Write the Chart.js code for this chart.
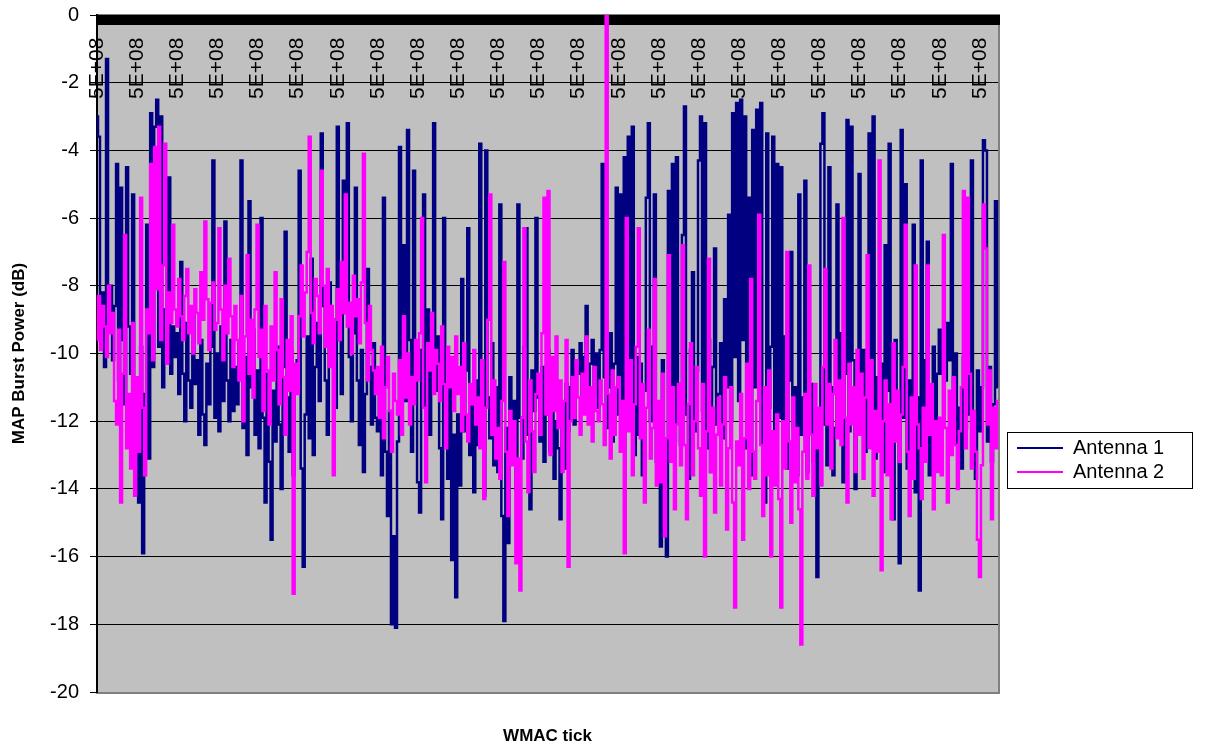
<!DOCTYPE html>
<html lang="en">
<head>
    <meta charset="UTF-8">
    <script src="https://cdn.jsdelivr.net/npm/chart.js@4"></script>
    <title>MAP Burst Power</title>
    <style>
        body { margin: 0; background: #fff; overflow: hidden; }
    </style>
</head>
<body>
    <canvas id="grafico1" width="1209" height="749"></canvas>
</body>
<script>
    // valori (dB), un punto ogni tick WMAC
    var antenna1 = [
        -3.0,-3.6,-9.5,-8.2,-10.4,-1.3,-9.0,-8.0,-10.2,-8.6, -4.4,-10.8,-5.1,-9.6,-11.5,-4.5,-9.2,-10.6,-5.3,-11.2,
        -12.6,-14.4,-9.8,-15.9,-11.2,-6.2,-13.1,-2.9,-10.4,-3.3, -2.5,-9.8,-3.0,-11.0,-8.7,-9.9,-4.8,-10.6,-9.2,-10.1,
        -9.4,-11.2,-7.3,-10.6,-12.0,-9.1,-10.8,-11.6,-8.8,-10.9, -10.2,-12.4,-9.6,-11.8,-12.7,-10.3,-11.5,-9.8,-4.3,-11.9,
        -10.0,-12.3,-9.2,-11.4,-6.1,-10.8,-12.0,-9.6,-11.7,-10.4, -11.5,-9.7,-4.3,-12.2,-10.1,-13.0,-5.5,-11.0,-9.3,-12.4,
        -10.5,-12.8,-6.0,-11.9,-14.4,-10.6,-13.2,-15.5,-11.1,-12.6, -9.8,-12.1,-14.0,-10.4,-6.4,-11.3,-12.9,-9.9,-13.6,-11.0,
        -10.2,-4.6,-13.4,-16.3,-11.8,-9.5,-12.5,-7.2,-13.0,-10.4, -9.1,-11.4,-3.5,-8.6,-10.8,-12.4,-7.9,-10.3,-9.0,-11.6,
        -3.3,-9.6,-11.2,-4.9,-8.8,-3.2,-10.1,-12.0,-9.4,-5.1, -10.8,-12.7,-9.9,-13.5,-11.2,-7.5,-10.4,-12.1,-9.7,-11.9,
        -12.3,-10.8,-13.6,-5.4,-12.9,-14.8,-11.7,-18.0,-15.4,-18.1, -12.6,-3.9,-10.2,-6.8,-11.4,-3.4,-9.6,-12.9,-4.6,-10.8,
        -13.8,-14.7,-9.9,-5.3,-11.6,-8.7,-12.4,-10.3,-3.2,-11.1, -9.5,-12.8,-14.9,-6.0,-12.1,-13.7,-10.9,-16.1,-12.4,-17.2,
        -11.8,-13.9,-7.8,-12.3,-10.5,-6.3,-13.0,-11.4,-14.1,-10.8, -12.7,-3.8,-10.6,-14.2,-4.0,-11.3,-12.5,-9.7,-13.3,-11.0,
        -13.5,-5.6,-14.8,-17.9,-12.2,-15.6,-10.7,-12.9,-11.4,-14.0, -5.6,-11.9,-13.1,-9.8,-6.3,-12.4,-14.6,-10.5,-11.7,-6.0,
        -11.3,-12.6,-10.4,-13.2,-11.8,-9.9,-12.9,-11.1,-13.7,-12.0, -12.8,-14.9,-11.6,-13.4,-10.9,-12.3,-11.0,-9.9,-12.1,-10.4,
        -10.6,-9.7,-11.4,-10.1,-8.6,-11.8,-10.3,-9.6,-11.2,-10.0, -11.6,-9.9,-4.4,-10.7,-12.2,-11.0,-9.4,-12.6,-10.3,-5.1,
        -11.8,-5.3,-12.9,-4.2,-10.6,-3.6,-11.9,-3.3,-13.0,-10.1, -12.4,-10.3,-13.6,-11.1,-5.4,-3.2,-12.0,-9.8,-5.3,-13.2,
        -11.5,-15.7,-10.2,-12.8,-16.0,-5.2,-11.3,-4.4,-12.6,-4.2, -10.9,-12.7,-6.5,-2.7,-11.8,-13.7,-9.9,-7.6,-12.3,-10.5,
        -4.3,-3.0,-11.7,-3.2,-12.8,-9.6,-13.5,-10.4,-6.9,-12.1, -11.2,-9.7,-12.5,-8.4,-11.0,-5.9,-12.0,-2.9,-10.1,-2.6,
        -11.4,-2.5,-9.6,-3.0,-12.8,-5.4,-13.6,-3.4,-11.0,-2.8, -10.3,-2.6,-12.9,-14.4,-3.5,-11.6,-9.8,-3.6,-13.1,-4.4,
        -11.9,-4.5,-12.7,-9.5,-13.4,-10.8,-7.0,-12.2,-11.0,-13.6, -5.3,-12.4,-11.3,-4.9,-13.5,-12.0,-10.9,-13.2,-11.7,-16.6,
        -12.6,-3.8,-2.9,-12.1,-13.3,-4.5,-11.0,-13.6,-12.2,-5.6, -11.1,-9.4,-13.8,-10.6,-3.1,-12.3,-3.3,-10.2,-14.0,-11.5,
        -4.7,-11.8,-9.9,-12.9,-10.4,-3.5,-11.6,-3.0,-13.1,-10.7, -12.4,-10.3,-13.5,-6.8,-11.1,-3.8,-12.7,-14.9,-9.6,-12.1,
        -16.2,-3.4,-11.9,-5.0,-13.4,-10.8,-12.5,-6.2,-14.1,-11.3, -17.0,-4.3,-12.3,-10.2,-6.7,-13.6,-11.4,-9.8,-12.8,-10.6,
        -9.3,-10.6,-9.9,-10.8,-9.1,-10.2,-4.4,-11.5,-10.0,-12.7, -11.6,-13.4,-10.1,-12.2,-9.4,-11.8,-4.3,-12.9,-13.7,-10.5,
        -12.3,-11.0,-3.7,-4.0,-12.6,-10.4,-13.2,-11.5,-5.5,-11.0
    ];

    var antenna2 = [
        -9.6,-8.3,-9.9,-8.6,-9.2,-10.1,-8.0,-9.4,-8.8,-11.4, -12.1,-9.3,-14.4,-10.6,-6.5,-12.8,-11.2,-13.4,-9.1,-14.2,
        -10.7,-12.9,-5.4,-11.6,-13.6,-8.7,-9.4,-4.4,-10.2,-3.9, -8.1,-3.3,-9.6,-7.4,-3.8,-10.3,-8.2,-9.1,-6.2,-8.7,
        -9.2,-7.8,-8.9,-9.6,-8.3,-7.5,-9.4,-8.6,-10.0,-8.1, -8.8,-9.7,-7.6,-9.0,-6.1,-8.4,-9.9,-8.5,-7.9,-9.3,
        -9.1,-6.3,-8.7,-10.2,-8.0,-9.4,-7.2,-8.9,-10.4,-8.6, -9.6,-10.8,-8.3,-12.0,-9.5,-7.1,-10.6,-9.0,-11.3,-8.7,
        -6.2,-10.1,-9.3,-11.7,-8.6,-10.5,-12.1,-9.2,-10.8,-7.6, -9.9,-11.5,-8.4,-10.7,-12.4,-9.6,-11.1,-8.9,-17.1,-10.3,
        -11.2,-8.9,-7.4,-9.5,-8.2,-7.0,-3.6,-8.8,-9.7,-7.8, -8.3,-9.4,-4.6,-8.0,-9.8,-7.5,-10.4,-8.6,-13.6,-9.0,
        -8.1,-9.6,-7.3,-8.8,-5.3,-9.2,-8.5,-10.0,-7.7,-8.9, -8.4,-9.7,-7.9,-4.1,-9.1,-10.8,-8.6,-9.9,-10.5,-11.2,
        -10.4,-11.9,-9.8,-12.5,-11.0,-10.1,-11.7,-12.9,-10.6,-11.4, -11.8,-10.2,-12.4,-8.9,-11.3,-10.0,-12.1,-10.7,-11.5,-9.6,
        -10.8,-9.4,-6.0,-11.6,-13.8,-9.7,-10.5,-8.8,-11.2,-9.9, -10.3,-11.4,-9.2,-10.9,-12.8,-9.8,-11.0,-10.1,-11.7,-9.5,
        -11.2,-10.4,-12.3,-9.7,-11.8,-12.6,-10.9,-11.5,-9.9,-12.1, -11.3,-12.8,-10.2,-14.3,-11.6,-9.0,-5.3,-12.4,-10.8,-13.1,
        -12.2,-13.7,-11.4,-7.3,-12.9,-14.8,-11.7,-13.3,-12.0,-16.2, -13.1,-17.0,-11.9,-6.3,-12.6,-14.1,-10.8,-12.3,-13.5,-11.2,
        -10.6,-12.4,-9.4,-5.4,-11.8,-5.2,-13.0,-10.1,-11.7,-9.5, -12.2,-10.8,-13.5,-11.4,-9.6,-16.3,-12.0,-10.7,-11.9,-10.2,
        -11.3,-12.4,-10.6,-11.8,-9.5,-12.1,-11.0,-12.6,-10.4,-11.7, -12.0,-10.8,-11.5,-12.7,0,-11.2,-13.1,-10.5,-12.4,-11.0,
        -10.7,-12.9,-11.4,-15.9,-6.0,-12.3,-10.2,-13.6,-11.5,-9.8, -6.3,-12.5,-10.9,-14.4,-11.6,-9.3,-13.1,-12.2,-7.8,-13.9,
        -11.4,-13.8,-10.6,-15.4,-12.5,-7.1,-13.2,-11.0,-14.6,-12.1, -10.9,-13.3,-6.8,-12.7,-14.9,-11.5,-9.7,-13.6,-12.0,-10.4,
        -12.8,-14.2,-10.9,-16.0,-12.3,-7.2,-13.5,-11.6,-14.7,-12.4, -11.3,-13.9,-12.1,-10.7,-15.2,-12.8,-11.0,-14.4,-17.5,-12.6,
        -13.3,-11.2,-15.5,-12.5,-10.3,-14.0,-7.8,-12.9,-13.7,-11.4, -5.9,-12.7,-14.8,-11.0,-13.6,-10.5,-16.0,-12.3,-13.9,-11.8,
        -14.3,-17.5,-12.0,-13.4,-7.0,-12.6,-15.0,-11.3,-13.8,-12.2, -14.6,-18.6,-12.9,-11.2,-13.7,-7.4,-12.4,-14.2,-10.9,-12.8,
        -11.6,-13.9,-10.4,-7.5,-12.1,-10.9,-13.4,-11.2,-9.6,-12.5, -10.8,-12.7,-6.0,-11.9,-14.4,-10.3,-12.1,-11.0,-13.5,-9.9,
        -12.4,-10.6,-13.7,-11.3,-7.1,-12.8,-10.2,-14.2,-11.7,-12.9, -4.3,-16.4,-12.0,-10.8,-13.6,-11.5,-14.9,-9.7,-12.6,-11.1,
        -13.2,-11.8,-10.4,-6.2,-12.9,-14.8,-11.3,-13.7,-7.4,-12.1, -12.8,-14.3,-11.6,-13.2,-7.4,-12.4,-10.9,-14.6,-12.0,-13.5,
        -11.9,-13.6,-6.5,-12.2,-14.4,-11.1,-13.0,-10.7,-12.7,-14.0, -12.3,-11.0,-5.2,-12.8,-5.4,-10.6,-13.4,-11.7,-12.9,-15.5,
        -16.6,-13.3,-5.6,-6.9,-12.1,-10.5,-14.9,-11.6,-12.8,-11.4
    ];

    // etichette dell'asse x (tutti i tick WMAC sono ~5E+08), una ogni 20 punti
    var tickLabel = '5E+08';
    var wmacTicks = antenna1.map(function() { return tickLabel; });
    var labelEvery = 20;

    var yTicks = { min: -20, max: 0, step: 2 };
    var font = '"Liberation Sans", Arial, sans-serif';

    // sfondo grigio dell'area del grafico
    var areaGrigia = {
        id: 'areaGrigia',
        beforeDraw: function(chart) {
            var ctx = chart.ctx, a = chart.chartArea;
            ctx.save();
            ctx.fillStyle = '#fff';
            ctx.fillRect(0, 0, chart.width, chart.height);
            ctx.fillStyle = '#c0c0c0';
            ctx.fillRect(a.left, a.top, a.right - a.left, a.bottom - a.top);
            ctx.strokeStyle = '#808080';
            ctx.lineWidth = 2;
            ctx.strokeRect(a.left, a.top, a.right - a.left + 1, a.bottom - a.top + 1);
            ctx.restore();
        }
    };

    // etichette verticali dentro l'area, sotto l'asse in alto
    var etichetteX = {
        id: 'etichetteX',
        afterDatasetsDraw: function(chart) {
            var ctx = chart.ctx, xs = chart.scales.x;
            ctx.save();
            ctx.font = '21px ' + font;
            ctx.fillStyle = '#000';
            ctx.textAlign = 'left';
            ctx.textBaseline = 'middle';
            chart.data.labels.forEach(function(lab, i) {
                if (i % labelEvery) return;
                ctx.save();
                ctx.translate(xs.getPixelForValue(i), chart.chartArea.top + 84);
                ctx.rotate(-Math.PI / 2);
                ctx.fillText(lab, 0, 0);
                ctx.restore();
            });
            ctx.restore();
        }
    };

    // legenda con cornice, a destra
    var legenda = {
        id: 'legenda',
        afterDraw: function(chart) {
            var ctx = chart.ctx, left = 1007, top = 432;
            ctx.save();
            ctx.strokeStyle = '#000';
            ctx.lineWidth = 1;
            ctx.strokeRect(left + 0.5, top + 0.5, 185, 56);
            ctx.font = '20px ' + font;
            ctx.textBaseline = 'middle';
            ctx.fillStyle = '#000';
            chart.data.datasets.forEach(function(ds, i) {
                var y = top + 16 + i * 24;
                ctx.strokeStyle = ds.borderColor;
                ctx.lineWidth = 2;
                ctx.beginPath();
                ctx.moveTo(left + 10, y);
                ctx.lineTo(left + 56, y);
                ctx.stroke();
                ctx.fillText(ds.label, left + 66, y);
            });
            ctx.restore();
        }
    };

    var data = {
        labels: wmacTicks,
        datasets: [
            {
                label: 'Antenna 1',
                data: antenna1,
                borderColor: '#000080',
                backgroundColor: '#000080',
                borderWidth: 2.5,
                stepped: 'middle',
                order: 2
            },
            {
                label: 'Antenna 2',
                data: antenna2,
                borderColor: '#ff00ff',
                backgroundColor: '#ff00ff',
                borderWidth: 2.5,
                stepped: 'middle',
                order: 1
            }
        ]
    };

    var options = {
        responsive: false,
        animation: false,
        devicePixelRatio: 1,
        layout: { padding: { left: 0, top: 0, right: 211, bottom: 0 } },
        elements: {
            point: { radius: 0 },
            line: { tension: 0 }
        },
        plugins: {
            legend: { display: false },
            tooltip: { enabled: false }
        },
        scales: {
            x: {
                type: 'category',
                position: 'top',
                ticks: { display: false },
                grid: {
                    drawOnChartArea: false,
                    tickLength: -10,
                    tickColor: '#000',
                    tickWidth: 3
                },
                border: { color: '#000', width: 1 },
                afterFit: function(s) { s.height = 15; }
            },
            xTitle: {
                type: 'category',
                position: 'bottom',
                grid: { display: false },
                border: { display: false },
                ticks: { display: false },
                title: {
                    display: true,
                    text: 'WMAC tick',
                    color: '#000',
                    font: { family: font, size: 17, weight: 'bold' },
                    padding: { top: 0, bottom: 2 }
                },
                afterFit: function(s) { s.height = 57; }
            },
            y: {
                min: yTicks.min,
                max: yTicks.max,
                ticks: {
                    stepSize: yTicks.step,
                    color: '#000',
                    padding: 11,
                    font: { family: font, size: 20 }
                },
                grid: {
                    color: function(c) { return c.tick && c.tick.value === yTicks.min ? 'rgba(0,0,0,0)' : '#000'; },
                    tickColor: '#000',
                    tickLength: 7,
                    lineWidth: 1
                },
                border: { color: '#000', width: 2 },
                title: {
                    display: true,
                    text: 'MAP Burst Power (dB)',
                    color: '#000',
                    font: { family: font, size: 17, weight: 'bold' },
                    padding: { top: 9, bottom: 0 }
                },
                afterFit: function(s) {
                    s.width = 97;
                    s.paddingTop = 0;
                    s.paddingBottom = 0;
                }
            }
        }
    };

    var myChart = new Chart('grafico1', {
        type: 'line',
        data: data,
        options: options,
        plugins: [areaGrigia, etichetteX, legenda]
    });
</script>
</html>
